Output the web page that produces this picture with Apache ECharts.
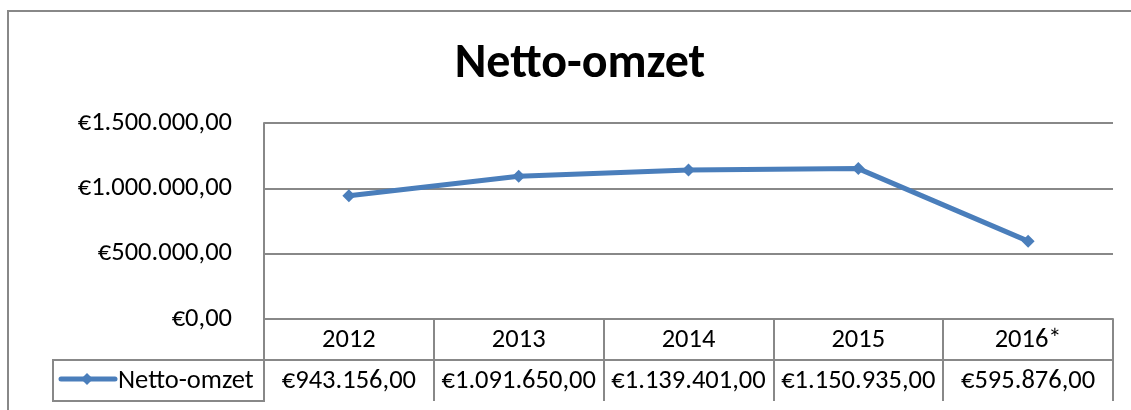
<!DOCTYPE html>
<html>
<head>
<meta charset="utf-8">
<script src="https://cdn.jsdelivr.net/npm/echarts@6/dist/echarts.min.js"></script>
<style>
  html, body { margin: 0; padding: 0; background: #fff; }
  #grafico { width: 1131px; height: 410px; }
</style>
</head>
<body>
<div id="grafico"></div>
<script>
const jaren = ['2012', '2013', '2014', '2015', '2016*']
const omzet = [943156, 1091650, 1139401, 1150935, 595876]
const serieNaam = 'Netto-omzet'
const titel = 'Netto-omzet'

const fuente = 'Carlito, Lato, sans-serif'
const gris = '#888888'
const azul = '#4a7ebb'
const tam = 26.5

// formato tipo Excel: €1.500.000,00
function euro(v) {
  let partes = v.toFixed(2).split('.')
  let entero = partes[0].replace(/\B(?=(\d{3})+(?!\d))/g, '.')
  return '€' + entero + ',' + partes[1]
}

const plot = { left: 264, top: 123, width: 849, height: 196 }
const filaAlto = 41

const chart = echarts.init(document.getElementById('grafico'))

let option = {
  animation: false,
  title: {
    text: titel,
    left: 575,
    top: 36,
    textAlign: 'center',
    textStyle: { fontFamily: fuente, fontSize: 48, fontWeight: 'bold', color: '#000' }
  },
  grid: plot,
  xAxis: [
    {
      type: 'category',
      data: jaren,
      boundaryGap: true,
      axisLine: { show: true, lineStyle: { color: gris, width: 2 } },
      axisTick: { show: true, inside: false, length: filaAlto * 2, lineStyle: { color: gris, width: 2 } },
      axisLabel: { interval: 0, hideOverlap: false, margin: 8, fontFamily: fuente, fontSize: tam, color: '#000' }
    },
    {
      type: 'category',
      position: 'bottom',
      offset: filaAlto,
      data: omzet.map(euro),
      boundaryGap: true,
      axisLine: { show: true, lineStyle: { color: gris, width: 2 } },
      axisTick: { show: false },
      axisLabel: { interval: 0, hideOverlap: false, margin: 8, fontFamily: fuente, fontSize: tam, color: '#000' }
    }
  ],
  yAxis: {
    type: 'value',
    min: 0,
    max: 1500000,
    interval: 500000,
    axisLine: { show: true, lineStyle: { color: gris, width: 2 } },
    axisTick: { show: false },
    splitLine: { lineStyle: { color: gris, width: 2 } },
    axisLabel: { margin: 32, fontFamily: fuente, fontSize: tam, color: '#000', formatter: v => euro(v) }
  },
  series: [
    {
      name: serieNaam,
      type: 'line',
      data: omzet,
      symbol: 'diamond',
      symbolSize: 13,
      lineStyle: { color: azul, width: 5 },
      itemStyle: { color: azul }
    }
  ],
  graphic: [
    // marco exterior del gráfico
    { type: 'rect', shape: { x: 8, y: 11, width: 1140, height: 420 }, style: { fill: 'none', stroke: gris, lineWidth: 2 } },
    // celda de la leyenda
    { type: 'rect', shape: { x: 53, y: plot.top + plot.height + filaAlto, width: plot.left - 53, height: filaAlto }, style: { fill: 'none', stroke: gris, lineWidth: 2 } },
    { type: 'line', shape: { x1: 61, y1: 379, x2: 115, y2: 379 }, style: { stroke: azul, lineWidth: 5, lineCap: 'round' } },
    { type: 'polygon', shape: { points: [[87, 373], [93, 379], [87, 385], [81, 379]] }, style: { fill: azul } },
    { type: 'text', x: 118, y: 381, style: { text: serieNaam, fontFamily: fuente, fontSize: tam, fill: '#000', textVerticalAlign: 'middle' } }
  ]
}

chart.setOption(option)
</script>
</body>
</html>
